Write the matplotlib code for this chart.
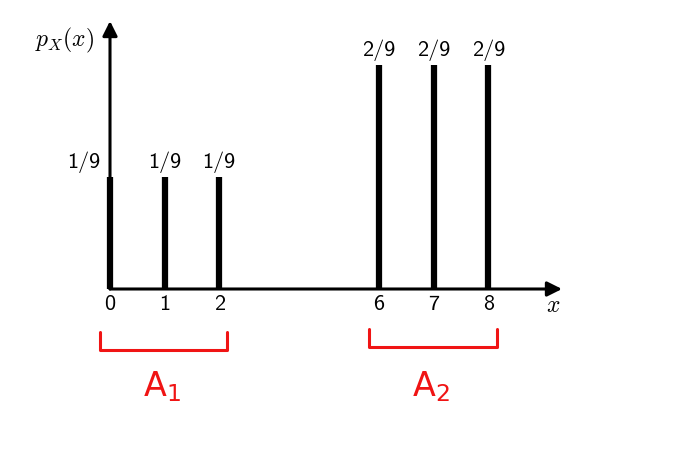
import matplotlib
matplotlib.use("Agg")
import matplotlib.pyplot as plt
from matplotlib.patches import FancyArrowPatch

plt.rcParams["mathtext.fontset"] = "cm"

# PMF values
xs = [0, 1, 2, 6, 7, 8]
probs = [1 / 9, 1 / 9, 1 / 9, 2 / 9, 2 / 9, 2 / 9]
prob_labels = ["1/9", "1/9", "1/9", "2/9", "2/9", "2/9"]
tick_labels = ["0", "1", "2", "6", "7", "8"]

# sets marked in red
set_a1 = [0, 1, 2]
set_a2 = [6, 7, 8]
set_names = [r"$\mathrm{A}_1$", r"$\mathrm{A}_2$"]

# the drawing is not to scale: the gap between 2 and 6 is squeezed
GAP_SHIFT = 1.07


def pos(x):
    return x - GAP_SHIFT if x > 3 else x


fig = plt.figure(figsize=(6.8, 4.64), dpi=100)
ax = fig.add_axes([0, 0, 1, 1])
px_x = 54.6          # pixels per x unit
px_y = 112 * 9       # pixels per probability unit
ax.set_xlim(-110 / px_x, (680 - 110) / px_x)
ax.set_ylim(-(464 - 290) / px_y, 290 / px_y)
ax.axis("off")

sans = dict(family="cmss10", fontsize=16)

# axes with arrows
ax.add_patch(FancyArrowPatch((0, 0), (0, 268 / px_y), arrowstyle="-|>",
                             mutation_scale=22, lw=2.2, color="black",
                             shrinkA=0, shrinkB=0))
ax.add_patch(FancyArrowPatch((0, 0), (452 / px_x, 0), arrowstyle="-|>",
                             mutation_scale=22, lw=2.2, color="black",
                             shrinkA=0, shrinkB=0))

# stems
ax.vlines([pos(x) for x in xs], 0, probs, colors="black", lw=4.5)

for x, p, lab, tl in zip(xs, probs, prob_labels, tick_labels):
    if x == 0:
        ax.text(pos(x) - 0.18, p + 5 / px_y, lab, ha="right", va="bottom", **sans)
    else:
        ax.text(pos(x), p + 5 / px_y, lab, ha="center", va="bottom", **sans)
    ax.text(pos(x), -5 / px_y, tl, ha="center", va="top", **sans)

ax.text(443 / px_x, -3 / px_y, "$x$", ha="center", va="top", fontsize=17)
ax.text(-0.28, 250 / px_y, "$p_X(x)$", ha="right", va="center", fontsize=17)

# red braces under the sets
for s, name, dy in zip([set_a1, set_a2], set_names, [0, 3]):
    left = pos(min(s)) - 0.18
    right = pos(max(s)) + 0.15
    top = (-43 + dy) / px_y
    bot = (-61 + dy) / px_y
    ax.plot([left, left, right, right], [top, bot, bot, top],
            color="#f01414", lw=2.2, solid_capstyle="round",
            solid_joinstyle="round")
    ax.text((pos(min(s)) + pos(max(s))) / 2 - 0.05, -97 / px_y, name,
            ha="center", va="center", fontsize=24, color="#f01414",
            math_fontfamily="dejavusans")

fig.savefig("out.png", dpi=100)
